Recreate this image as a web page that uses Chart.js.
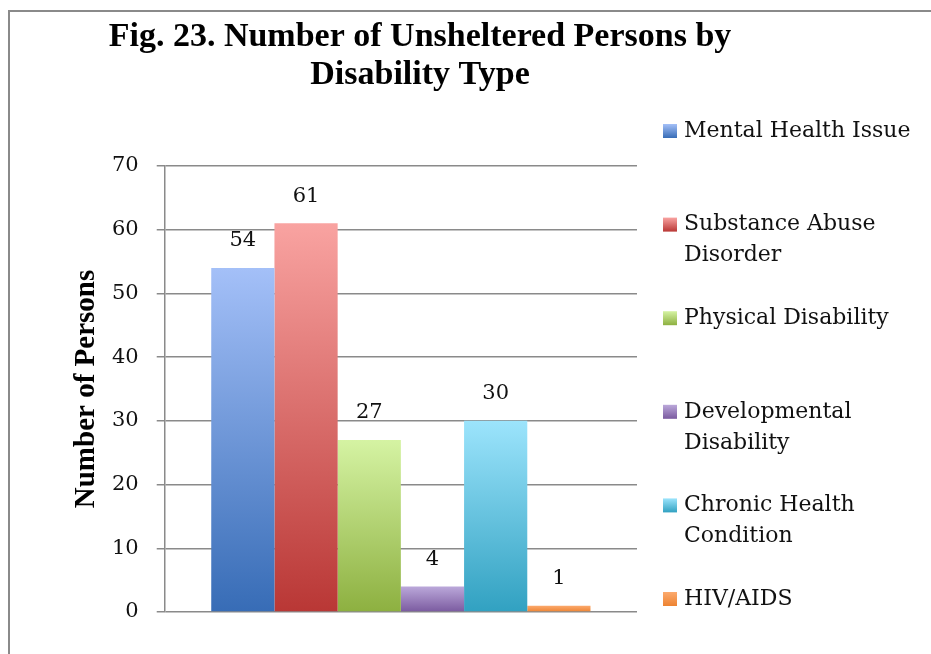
<!DOCTYPE html>
<html>
<head>
<meta charset="utf-8">
<title>Fig. 23</title>
<script src="https://cdn.jsdelivr.net/npm/chart.js@4.4.1/dist/chart.umd.min.js"></script>
<style>
  body { margin: 0; background: #fff; }
  #wrap { width: 931px; height: 654px; }
</style>
</head>
<body>
<div id="wrap"><canvas id="chart" width="931" height="654"></canvas></div>
<script>
// chart data
const titleLines = ['Fig. 23. Number of Unsheltered Persons by', 'Disability Type'];
const disabilityTypes = ['Mental Health Issue', 'Substance Abuse Disorder', 'Physical Disability',
  'Developmental Disability', 'Chronic Health Condition', 'HIV/AIDS'];
const legendLines = [['Mental Health Issue'], ['Substance Abuse', 'Disorder'], ['Physical Disability'],
  ['Developmental', 'Disability'], ['Chronic Health', 'Condition'], ['HIV/AIDS']];
const personCounts = [54, 61, 27, 4, 30, 1];
const yTicks = [0, 10, 20, 30, 40, 50, 60, 70];

// top / bottom gradient colours per bar
const topColors = ['#a4c0f8', '#f9a3a1', '#d5f3a3', '#bba8da', '#9ce4fc', '#fcaa6e'];
const bottomColors = ['#376cb6', '#b93735', '#8db040', '#7a5a9f', '#31a1c1', '#ed8331'];

const SERIF = '"DejaVu Serif", serif';
const TITLE_SERIF = '"Liberation Serif", serif';
const GRID = '#8a8a8a';

function barGradient(ctx, i) {
  const chart = ctx.chart;
  if (!chart.chartArea) return topColors[i];
  const y = chart.scales.y;
  const g = chart.ctx.createLinearGradient(0, y.getPixelForValue(personCounts[i]), 0, y.getPixelForValue(0));
  g.addColorStop(0, topColors[i]);
  g.addColorStop(1, bottomColors[i]);
  return g;
}

// frame, title, value labels and legend
const decor = {
  id: 'decor',
  beforeDraw(chart) {
    const c = chart.ctx;
    c.save();
    c.strokeStyle = '#8a8a8a';
    c.lineWidth = 2;
    c.beginPath();
    c.moveTo(9, 660);
    c.lineTo(9, 11);
    c.lineTo(940, 11);
    c.stroke();
    c.restore();
  },
  afterDatasetsDraw(chart) {
    const c = chart.ctx;
    c.save();
    c.fillStyle = '#111';
    c.font = '21px ' + SERIF;
    c.textAlign = 'center';
    c.textBaseline = 'middle';
    chart.data.datasets.forEach((ds, i) => {
      chart.getDatasetMeta(i).data.forEach((bar, j) => {
        c.fillText(String(ds.data[j]), bar.x, bar.y - 27);
      });
    });
    c.restore();
  },
  afterDraw(chart) {
    const c = chart.ctx;
    c.save();
    c.fillStyle = '#000';
    c.textAlign = 'center';
    c.textBaseline = 'middle';
    c.font = 'bold 34px ' + TITLE_SERIF;
    titleLines.forEach((t, i) => c.fillText(t, 420, 37 + i * 38));

    // legend
    c.textAlign = 'left';
    c.font = '22px ' + SERIF;
    legendLines.forEach((lines, i) => {
      const y0 = 131 + i * 93.6;
      const g = c.createLinearGradient(0, y0 - 7, 0, y0 + 7);
      g.addColorStop(0, topColors[i]);
      g.addColorStop(1, bottomColors[i]);
      c.fillStyle = g;
      c.fillRect(663, y0 - 7, 14, 14);
      c.fillStyle = '#111';
      lines.forEach((l, k) => c.fillText(l, 684, y0 + k * 31));
    });
    c.restore();
  }
};

new Chart(document.getElementById('chart'), {
  type: 'bar',
  data: {
    labels: ['Disability Type'],
    datasets: disabilityTypes.map((name, i) => ({
      label: name,
      data: [personCounts[i]],
      backgroundColor: ctx => barGradient(ctx, i),
      borderWidth: 0
    }))
  },
  options: {
    responsive: false,
    animation: false,
    layout: { padding: { top: 166, bottom: 42, left: 72, right: 294 } },
    categoryPercentage: 0.803,
    barPercentage: 1.0,
    plugins: {
      legend: { display: false },
      title: { display: false },
      tooltip: { enabled: false }
    },
    scales: {
      x: { display: false },
      y: {
        min: 0,
        max: 70,
        afterBuildTicks: axis => { axis.ticks = yTicks.map(v => ({ value: v })); },
        grid: { color: GRID, lineWidth: 1.5, tickLength: 8, tickColor: GRID },
        border: { color: GRID, width: 1.5 },
        ticks: { color: '#111', padding: 18, font: { family: SERIF, size: 21 } },
        title: {
          display: true,
          text: 'Number of Persons',
          color: '#000',
          padding: { top: 0, bottom: -7 },
          font: { family: TITLE_SERIF, size: 29, weight: 'bold', lineHeight: 1.0 }
        }
      }
    }
  },
  plugins: [decor]
});
</script>
</body>
</html>
